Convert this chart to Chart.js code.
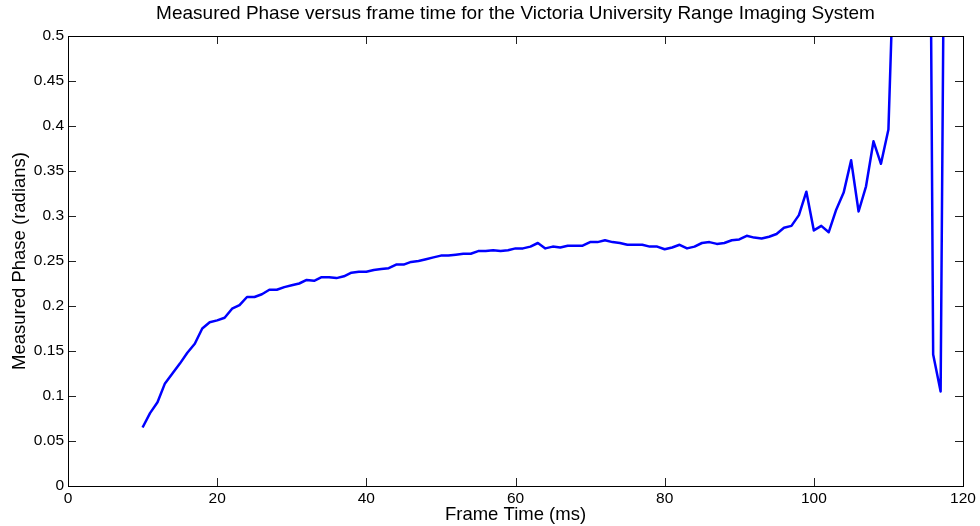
<!DOCTYPE html>
<html>
<head>
<meta charset="utf-8">
<script src="https://cdn.jsdelivr.net/npm/chart.js@4.4.1/dist/chart.umd.min.js"></script>
<style>
  html, body { margin: 0; padding: 0; background: #fff; }
  #wrap { width: 980px; height: 526px; }
</style>
</head>
<body>
<div id="wrap"><canvas id="phaseChart"></canvas></div>
<script>
// frame time in ms
const frameTime = [
  10, 11, 12, 13, 14, 15, 16, 17, 18, 19,
  20, 21, 22, 23, 24, 25, 26, 27, 28, 29,
  30, 31, 32, 33, 34, 35, 36, 37, 38, 39,
  40, 41, 42, 43, 44, 45, 46, 47, 48, 49,
  50, 51, 52, 53, 54, 55, 56, 57, 58, 59,
  60, 61, 62, 63, 64, 65, 66, 67, 68, 69,
  70, 71, 72, 73, 74, 75, 76, 77, 78, 79,
  80, 81, 82, 83, 84, 85, 86, 87, 88, 89,
  90, 91, 92, 93, 94, 95, 96, 97, 98, 99,
  100, 101, 102, 103, 104, 105, 106, 107, 108, 109,
  110, 111, 112, 113, 114, 115, 116, 117, 118
]

// measured phase in radians (values past 0.5 run off the top of the plot)
const phase = [
  0.065, 0.081, 0.093, 0.114, 0.125, 0.136, 0.148, 0.158, 0.175, 0.182,
  0.184, 0.187, 0.197, 0.201, 0.210, 0.210, 0.213, 0.218, 0.218, 0.221,
  0.223, 0.225, 0.229, 0.228, 0.232, 0.232, 0.231, 0.233, 0.237, 0.238,
  0.238, 0.240, 0.241, 0.242, 0.246, 0.246, 0.249, 0.250, 0.252, 0.254,
  0.256, 0.256, 0.257, 0.258, 0.258, 0.261, 0.261, 0.262, 0.261, 0.262,
  0.264, 0.264, 0.266, 0.270, 0.264, 0.266, 0.265, 0.267, 0.267, 0.267,
  0.271, 0.271, 0.273, 0.271, 0.270, 0.268, 0.268, 0.268, 0.266, 0.266,
  0.263, 0.265, 0.268, 0.264, 0.266, 0.270, 0.271, 0.269, 0.270, 0.273,
  0.274, 0.278, 0.276, 0.275, 0.277, 0.280, 0.287, 0.289, 0.301, 0.327,
  0.284, 0.289, 0.282, 0.307, 0.326, 0.362, 0.305, 0.333, 0.383, 0.358,
  0.396, 0.66, 0.95, 1.2, 1.4, 1.45, 0.146, 0.105, 1.23
]

const xTicks = [0, 20, 40, 60, 80, 100, 120]
const yTicks = [0, 0.05, 0.1, 0.15, 0.2, 0.25, 0.3, 0.35, 0.4, 0.45, 0.5]

const TITLE = 'Measured Phase versus frame time for the Victoria University Range Imaging System'
const FONT = 'Liberation Sans, Arial, Helvetica, sans-serif'
const TICK_LEN = 8

// matlab style box with inward ticks on all four sides, title centred on the axes
const boxTicks = {
  id: 'boxTicks',
  afterDraw(chart) {
    const { ctx, chartArea: a, scales } = chart
    ctx.save()
    ctx.strokeStyle = '#222'
    ctx.lineWidth = 1
    ctx.beginPath()
    xTicks.forEach(v => {
      const px = Math.round(scales.x.getPixelForValue(v)) + 0.5
      ctx.moveTo(px, a.bottom); ctx.lineTo(px, a.bottom - TICK_LEN)
      ctx.moveTo(px, a.top); ctx.lineTo(px, a.top + TICK_LEN)
    })
    yTicks.forEach(v => {
      const py = Math.round(scales.y.getPixelForValue(v)) + 0.5
      ctx.moveTo(a.left, py); ctx.lineTo(a.left + TICK_LEN, py)
      ctx.moveTo(a.right, py); ctx.lineTo(a.right - TICK_LEN, py)
    })
    ctx.stroke()
    ctx.strokeStyle = '#000'
    ctx.strokeRect(Math.round(a.left) + 0.5, Math.round(a.top) + 0.5,
      Math.round(a.right - a.left), Math.round(a.bottom - a.top))

    ctx.fillStyle = '#000'
    ctx.font = '19px ' + FONT
    ctx.textAlign = 'center'
    ctx.textBaseline = 'middle'
    ctx.fillText(TITLE, (a.left + a.right) / 2, 14)
    ctx.restore()
  }
}

// 0.5 rather than 0.50, like the original
const fmt = v => String(+Number(v).toFixed(2))

new Chart(document.getElementById('phaseChart'), {
  type: 'line',
  data: {
    datasets: [{
      data: frameTime.map((t, i) => ({ x: t, y: phase[i] })),
      borderColor: '#0000ff',
      borderWidth: 2.5,
      borderJoinStyle: 'round',
      pointRadius: 0,
      tension: 0,
      fill: false
    }]
  },
  options: {
    responsive: true,
    maintainAspectRatio: false,
    devicePixelRatio: 1,
    animation: false,
    layout: { padding: { left: 0, right: 17, top: 36, bottom: 0 } },
    plugins: {
      legend: { display: false },
      tooltip: { enabled: false },
      title: { display: false }
    },
    scales: {
      x: {
        type: 'linear',
        min: 0,
        max: 120,
        afterBuildTicks: s => { s.ticks = xTicks.map(v => ({ value: v })) },
        afterFit: s => { s.height = 40 },
        grid: { display: false, drawTicks: false },
        border: { display: false },
        ticks: { color: '#000', padding: 3, maxRotation: 0, callback: fmt, font: { family: FONT, size: 15.5 } },
        title: {
          display: true,
          text: 'Frame Time (ms)',
          color: '#000',
          font: { family: FONT, size: 18.5 },
          padding: { top: 0, bottom: 0 }
        }
      },
      y: {
        type: 'linear',
        min: 0,
        max: 0.5,
        afterBuildTicks: s => { s.ticks = yTicks.map(v => ({ value: v })) },
        afterFit: s => { s.width = 68 },
        grid: { display: false, drawTicks: false },
        border: { display: false },
        ticks: { color: '#000', padding: 4, callback: fmt, font: { family: FONT, size: 15.5 } },
        title: {
          display: true,
          text: 'Measured Phase (radians)',
          color: '#000',
          font: { family: FONT, size: 18.5 },
          padding: { top: 9, bottom: 0 }
        }
      }
    }
  },
  plugins: [boxTicks]
})
</script>
</body>
</html>
